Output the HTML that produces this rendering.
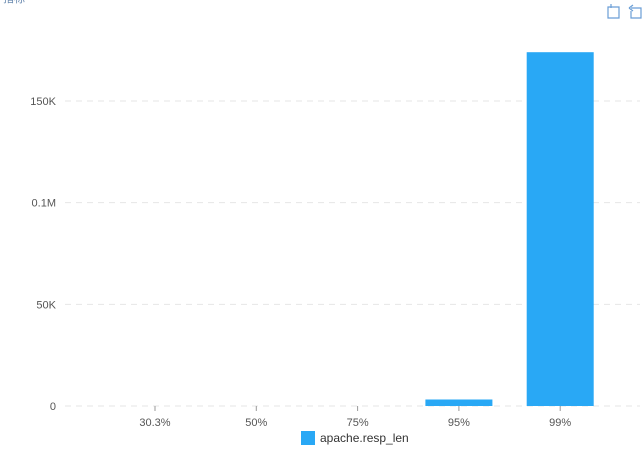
<!DOCTYPE html>
<html><head><meta charset="utf-8"><style>
body{margin:0;background:#fff;font-family:"Liberation Sans",sans-serif;}
svg{display:block}
</style></head><body>
<svg width="644" height="464" id="c">
<text x="3" y="2" font-size="11" fill="#6a8ab0">指标</text>
<g stroke="#6a9ed6" fill="none" stroke-width="1.2">
<path d="M608 7 H619 V18 H608 Z M611 4 V8"/></g>
<g stroke="#6a9ed6" fill="none" stroke-width="1.2">
<path d="M631 8 H641 V18 H631 V11 M629 8 L633 5 M629 8 L633 11"/></g>
<g id="grid"></g><g id="bars"></g><g id="axis"></g>
<g>
<rect x="301" y="431" width="14" height="14" fill="#29a8f5"/>
<text x="320" y="442" font-size="12" fill="#333">apache.resp_len</text>
</g>
</svg>
<script>
const categories=["30.3%","50%","75%","95%","99%"];
const values=[0,0,0,3200,174000];
const yTicks=[0,50000,100000,150000];
const yTickLabels=["0","50K","0.1M","150K"];
const NS="http://www.w3.org/2000/svg";
const y0=406,pxPer=(406-101)/150000;
const y=v=>y0-v*pxPer;
const band=101.3,x=i=>155+i*band,bw=67;
function mk(t,a,p){const e=document.createElementNS(NS,t);for(const k in a)e.setAttribute(k,a[k]);p.appendChild(e);return e;}
const g=document.getElementById('grid'),b=document.getElementById('bars'),ax=document.getElementById('axis');
yTicks.forEach((v,i)=>{
 const l=mk('line',{x1:65,x2:640,y1:y(v),y2:y(v),stroke:'#e6e6e6','stroke-dasharray':'6,5'},g);
 
 
 const t=mk('text',{x:56,y:y(v)+4,'font-size':11,fill:'#555','text-anchor':'end'},ax);
 t.textContent=yTickLabels[i];
 
 
});
categories.forEach((c,i)=>{
 const h=values[i]*pxPer;
 const r=mk('rect',{x:x(i)-bw/2,y:y0-h,width:bw,height:h,fill:'#29a8f5'},b);
 
 
 const tk=mk('line',{x1:x(i),x2:x(i),y1:y0,y2:y0+5,stroke:'#999'},ax);
 
 
 const t=mk('text',{x:x(i),y:y0+20,'font-size':11,fill:'#555','text-anchor':'middle'},ax);
 t.textContent=c;
 
 
});
</script>
</body></html>
